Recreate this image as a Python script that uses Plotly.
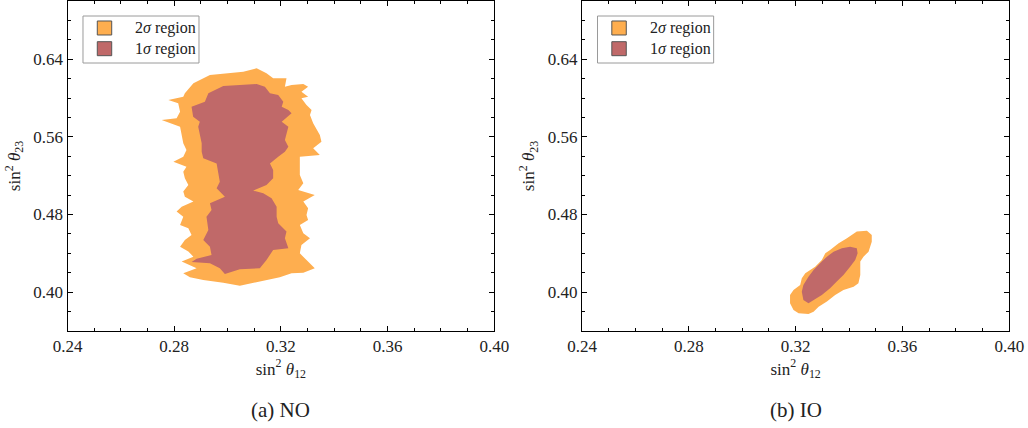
import plotly.graph_objects as go
from plotly.subplots import make_subplots

# ---- NO (normal ordering) contour outlines, (sin^2 theta12, sin^2 theta23) ----
no_2s_x = [0.2840, 0.2872, 0.2934, 0.2996, 0.3059, 0.3109, 0.3146, 0.3171, 0.3221, 0.3215,
           0.3240, 0.3284, 0.3302, 0.3277, 0.3302, 0.3277, 0.3296, 0.3315, 0.3309, 0.3321,
           0.3346, 0.3352, 0.3321, 0.3346, 0.3271, 0.3271, 0.3284, 0.3265, 0.3327, 0.3284,
           0.3302, 0.3296, 0.3302, 0.3271, 0.3284, 0.3309, 0.3277, 0.3271, 0.3296, 0.3327,
           0.3284, 0.3240, 0.3196, 0.3121, 0.3046, 0.2984, 0.2909, 0.2859, 0.2834, 0.2884,
           0.2828, 0.2872, 0.2853, 0.2822, 0.2840, 0.2865, 0.2853, 0.2822, 0.2834, 0.2809,
           0.2828, 0.2872, 0.2840, 0.2834, 0.2853, 0.2840, 0.2834, 0.2846, 0.2797, 0.2834,
           0.2846, 0.2834, 0.2828, 0.2822, 0.2753, 0.2809, 0.2822, 0.2815, 0.2778, 0.2834]
no_2s_y = [0.6049, 0.6152, 0.6238, 0.6255, 0.6272, 0.6306, 0.6255, 0.6203, 0.6203, 0.6117,
           0.6135, 0.6145, 0.6117, 0.6066, 0.6014, 0.5997, 0.5929, 0.5877, 0.5826, 0.5740,
           0.5619, 0.5551, 0.5482, 0.5413, 0.5396, 0.5207, 0.5121, 0.5053, 0.5001, 0.4933,
           0.4864, 0.4795, 0.4744, 0.4692, 0.4606, 0.4555, 0.4486, 0.4400, 0.4332, 0.4246,
           0.4201, 0.4194, 0.4153, 0.4108, 0.4067, 0.4098, 0.4125, 0.4153, 0.4194, 0.4246,
           0.4315, 0.4366, 0.4418, 0.4469, 0.4538, 0.4589, 0.4658, 0.4692, 0.4778, 0.4830,
           0.4881, 0.4933, 0.4984, 0.5036, 0.5104, 0.5173, 0.5242, 0.5293, 0.5345, 0.5396,
           0.5465, 0.5534, 0.5619, 0.5705, 0.5774, 0.5791, 0.5860, 0.5946, 0.5980, 0.6014]

no_1s_x = [0.2928, 0.2984, 0.3046, 0.3109, 0.3140, 0.3159, 0.3190, 0.3209, 0.3203, 0.3228,
           0.3240, 0.3215, 0.3203, 0.3228, 0.3221, 0.3215, 0.3228, 0.3215, 0.3190, 0.3159,
           0.3171, 0.3171, 0.3146, 0.3096, 0.3134, 0.3165, 0.3184, 0.3184, 0.3190, 0.3221,
           0.3215, 0.3228, 0.3171, 0.3146, 0.3121, 0.3046, 0.2990, 0.2971, 0.2934, 0.2865,
           0.2884, 0.2940, 0.2934, 0.2909, 0.2928, 0.2921, 0.2940, 0.2934, 0.2990, 0.2959,
           0.2971, 0.2965, 0.2959, 0.2909, 0.2903, 0.2903, 0.2896, 0.2890, 0.2896, 0.2871,
           0.2865, 0.2915]
no_1s_y = [0.6049, 0.6124, 0.6135, 0.6145, 0.6117, 0.6049, 0.6031, 0.5963, 0.5911, 0.5877,
           0.5843, 0.5791, 0.5757, 0.5705, 0.5637, 0.5568, 0.5499, 0.5448, 0.5396, 0.5327,
           0.5259, 0.5173, 0.5104, 0.5046, 0.5019, 0.4967, 0.4881, 0.4778, 0.4709, 0.4624,
           0.4555, 0.4452, 0.4435, 0.4332, 0.4246, 0.4236, 0.4188, 0.4246, 0.4297, 0.4311,
           0.4345, 0.4383, 0.4469, 0.4538, 0.4641, 0.4778, 0.4847, 0.4916, 0.4984, 0.5070,
           0.5139, 0.5224, 0.5327, 0.5379, 0.5448, 0.5534, 0.5637, 0.5705, 0.5757, 0.5808,
           0.5911, 0.5963]

# ---- IO (inverted ordering) contour outlines ----
io_2s_x = [0.3179, 0.3192, 0.3217, 0.3223, 0.3236, 0.3254, 0.3273, 0.3298, 0.3311, 0.3329,
           0.3361, 0.3392, 0.3417, 0.3429, 0.3467, 0.3485, 0.3485, 0.3479, 0.3473, 0.3454,
           0.3442, 0.3442, 0.3442, 0.3435, 0.3417, 0.3379, 0.3348, 0.3317, 0.3286, 0.3267,
           0.3248, 0.3211, 0.3192, 0.3179]
io_2s_y = [0.3971, 0.4023, 0.4074, 0.4143, 0.4194, 0.4229, 0.4263, 0.4332, 0.4400, 0.4435,
           0.4503, 0.4555, 0.4606, 0.4624, 0.4634, 0.4589, 0.4520, 0.4469, 0.4417, 0.4366,
           0.4315, 0.4263, 0.4177, 0.4091, 0.4057, 0.4023, 0.3971, 0.3903, 0.3851, 0.3799,
           0.3775, 0.3782, 0.3816, 0.3885]

io_1s_x = [0.3223, 0.3229, 0.3248, 0.3267, 0.3298, 0.3317, 0.3342, 0.3373, 0.3404, 0.3429,
           0.3432, 0.3423, 0.3404, 0.3379, 0.3354, 0.3329, 0.3298, 0.3267, 0.3248, 0.3229]
io_1s_y = [0.4005, 0.4074, 0.4160, 0.4229, 0.4315, 0.4366, 0.4417, 0.4452, 0.4469, 0.4452,
           0.4400, 0.4332, 0.4263, 0.4177, 0.4109, 0.4040, 0.3971, 0.3920, 0.3885, 0.3920]

x_ticks = [0.24, 0.28, 0.32, 0.36, 0.40]
y_ticks = [0.40, 0.48, 0.56, 0.64]
series_names = ["2<i>σ</i> region", "1<i>σ</i> region"]
captions = ["(a) NO", "(b) IO"]

ORANGE = "#FEAE4F"
RED = "#C06969"
FONT = "Liberation Serif, Times New Roman, DejaVu Serif, serif"
TXT = "#222222"

fig = make_subplots(rows=1, cols=2)

panels = [((no_2s_x, no_2s_y), (no_1s_x, no_1s_y)),
          ((io_2s_x, io_2s_y), (io_1s_x, io_1s_y))]

for c, (outer, inner) in enumerate(panels, start=1):
    fig.add_trace(go.Scatter(x=outer[0] + [outer[0][0]], y=outer[1] + [outer[1][0]],
                             fill="toself", fillcolor=ORANGE, mode="lines",
                             line=dict(width=0, color=ORANGE), name=series_names[0],
                             showlegend=False, hoverinfo="skip"), row=1, col=c)
    fig.add_trace(go.Scatter(x=inner[0] + [inner[0][0]], y=inner[1] + [inner[1][0]],
                             fill="toself", fillcolor=RED, mode="lines",
                             line=dict(width=0, color=RED), name=series_names[1],
                             showlegend=False, hoverinfo="skip"), row=1, col=c)

W, H = 1028, 428
dom_x = [[67.5 / W, 494.3 / W], [582.0 / W, 1009.3 / W]]
dom_y = [1 - 331.0 / H, 1 - 1.0 / H]

axis_common = dict(showline=True, linecolor="black", linewidth=1, mirror="ticks",
                   ticks="inside", ticklen=5, tickwidth=1, tickcolor="black",
                   showgrid=False, zeroline=False, automargin=False,
                   tickfont=dict(family=FONT, size=17, color=TXT))

for c in (1, 2):
    fig.update_xaxes(range=[0.24, 0.40], tickvals=x_ticks, tickformat=".2f",
                     domain=dom_x[c - 1],
                     minor=dict(ticks="inside", dtick=0.01, tick0=0.24, ticklen=3,
                                tickcolor="black", showgrid=False),
                     title=dict(text="sin<sup>2</sup> <i>θ</i><sub>12</sub>",
                                font=dict(family=FONT, size=17, color=TXT), standoff=0),
                     row=1, col=c, **axis_common)
    fig.update_yaxes(range=[0.36, 0.70], tickvals=y_ticks, tickformat=".2f",
                     domain=dom_y,
                     minor=dict(ticks="inside", dtick=0.02, tick0=0.36, ticklen=3,
                                tickcolor="black", showgrid=False),
                     title=dict(text="sin<sup>2</sup> <i>θ</i><sub>23</sub>",
                                font=dict(family=FONT, size=17, color=TXT), standoff=8),
                     row=1, col=c, **axis_common)

# ---- hand-drawn legends (box, swatches, labels) in axis-domain coordinates ----
for c in (1, 2):
    xr = "x domain" if c == 1 else "x2 domain"
    yr = "y domain" if c == 1 else "y2 domain"
    fig.add_shape(type="rect", xref=xr, yref=yr, x0=0.0363, x1=0.3081, y0=0.8121, y1=0.9545,
                  line=dict(color="#9a9a9a", width=1), fillcolor="white", layer="above")
    for i, (name, col) in enumerate(zip(series_names, [ORANGE, RED])):
        top = 0.9394 - i * 0.0627
        fig.add_shape(type="rect", xref=xr, yref=yr, x0=0.0698, x1=0.1036,
                      y0=top - 0.0424, y1=top, line=dict(color="#555555", width=1),
                      fillcolor=col, layer="above")
        fig.add_annotation(text=name, xref=xr, yref=yr, x=0.1540, y=top - 0.0212,
                           xanchor="left", yanchor="middle", showarrow=False,
                           font=dict(family=FONT, size=16, color=TXT))

for cap, xd in zip(captions, dom_x):
    fig.add_annotation(text=cap, xref="paper", yref="paper", x=(xd[0] + xd[1]) / 2,
                       y=1 - 410 / H, xanchor="center", yanchor="middle", showarrow=False,
                       font=dict(family=FONT, size=21, color=TXT))

fig.update_layout(width=W, height=H, margin=dict(l=0, r=0, t=0, b=0, autoexpand=False),
                  paper_bgcolor="white", plot_bgcolor="white", showlegend=False)

fig.write_html("out.html", config={"displayModeBar": False},
               post_script="document.body.style.margin='0';document.body.style.overflow='hidden';")
